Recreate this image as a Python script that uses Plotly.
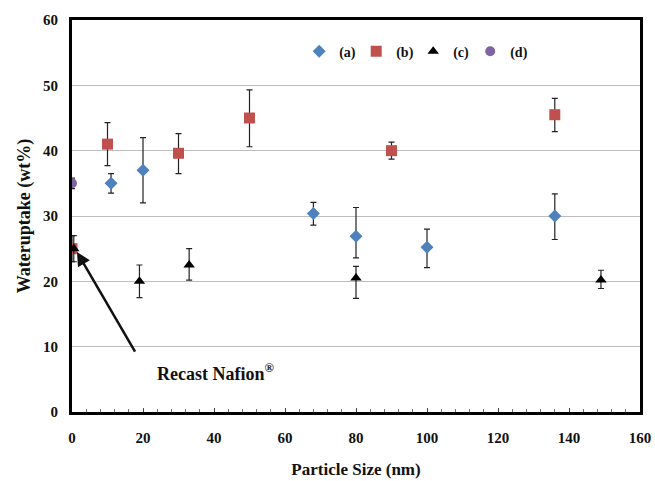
import plotly.graph_objects as go

# ---- data ----
a_x = [11, 20, 68, 80, 100, 136]
a_y = [35.0, 37.0, 30.4, 26.9, 25.2, 30.0]
a_up = [1.5, 5.0, 1.7, 4.4, 2.8, 3.4]
a_dn = [1.5, 5.0, 1.8, 3.3, 3.1, 3.6]

b_x = [0, 10, 30, 50, 90, 136]
b_y = [25.0, 41.0, 39.6, 45.0, 40.0, 45.5]
b_up = [2.0, 3.3, 3.0, 4.3, 1.3, 2.5]
b_dn = [2.0, 3.3, 3.1, 4.4, 1.3, 2.6]

c_x = [0.5, 19, 33, 80, 149]
c_y = [25.0, 20.0, 22.5, 20.5, 20.2]
c_up = [2.0, 2.5, 2.5, 1.8, 1.5]
c_dn = [2.0, 2.5, 2.3, 3.1, 1.3]

d_x = [0]
d_y = [35.0]
d_up = [0.8]
d_dn = [0.8]

series_names = ["(a)", "(b)", "(c)", "(d)"]
x_ticks = [0, 20, 40, 60, 80, 100, 120, 140, 160]
y_ticks = [0, 10, 20, 30, 40, 50, 60]

FONT = "Liberation Serif, Times New Roman, serif"

def err(up, dn):
    return dict(type="data", array=up, arrayminus=dn, symmetric=False,
                color="#222222", thickness=1.2, width=3)

fig = go.Figure()
fig.add_trace(go.Scatter(x=a_x, y=a_y, mode="markers", name=series_names[0],
                         marker=dict(symbol="diamond", size=10, color="#4F81BD"),
                         error_y=err(a_up, a_dn)))
fig.add_trace(go.Scatter(x=b_x, y=b_y, mode="markers", name=series_names[1],
                         marker=dict(symbol="square", size=11, color="#C0504D"),
                         error_y=err(b_up, b_dn)))
fig.add_trace(go.Scatter(x=c_x, y=c_y, mode="markers", name=series_names[2],
                         marker=dict(symbol="triangle-up", size=10, color="#000000"),
                         error_y=err(c_up, c_dn)))
fig.add_trace(go.Scatter(x=d_x, y=d_y, mode="markers", name=series_names[3],
                         marker=dict(symbol="circle", size=10, color="#8064A2"),
                         error_y=err(d_up, d_dn)))

fig.add_annotation(x=1.4, y=24.5, ax=18.0, ay=9.0, xref="x", yref="y",
                   axref="x", ayref="y", text="", showarrow=True,
                   arrowhead=2, arrowsize=1.1, arrowwidth=2.5, arrowcolor="#111111")
fig.add_annotation(x=23.3, y=6.0, xref="x", yref="y", xanchor="left",
                   text="Recast Nafion<sup>®</sup>", showarrow=False,
                   font=dict(family=FONT, size=18, color="#111111", weight="bold"))

fig.update_layout(
    width=655, height=481,
    margin=dict(l=72, r=15, t=20, b=69, autoexpand=False),
    paper_bgcolor="white", plot_bgcolor="white",
    font=dict(family=FONT, color="#111111"),
    showlegend=True,
    legend=dict(orientation="h", x=0.40, y=0.96, xanchor="left", yanchor="top",
                font=dict(family=FONT, size=14, color="#111111", weight="bold"),
                bgcolor="rgba(0,0,0,0)", itemwidth=30,
                entrywidth=12, entrywidthmode="pixels"),
    xaxis=dict(range=[0, 160], tickvals=x_ticks, showgrid=False, zeroline=False,
               automargin=False,
               showline=True, linecolor="#000000", linewidth=3, mirror=True,
               ticks="inside", ticklen=4, tickcolor="#444444",
               ticklabelstandoff=10,
               minor=dict(dtick=4, ticks="inside", ticklen=3, tickcolor="#777777"),
               tickfont=dict(family=FONT, size=15, color="#111111", weight="bold"),
               title=dict(text="<b>Particle Size (nm)</b>", standoff=19,
                          font=dict(family=FONT, size=17, color="#111111"))),
    yaxis=dict(range=[0, 60], tickvals=y_ticks, showgrid=True, gridcolor="#BDBDBD",
               gridwidth=1, zeroline=False, automargin=False,
               showline=True, linecolor="#000000", linewidth=3, mirror=True,
               ticks="", ticklabelstandoff=8,
               tickfont=dict(family=FONT, size=15, color="#111111", weight="bold"),
               title=dict(text="<b>Wateruptake (wt%)</b>", standoff=8,
                          font=dict(family=FONT, size=18, color="#111111"))),
)

fig.write_html("out.html", config={"displayModeBar": False},
               post_script="document.body.style.margin='0px';")
